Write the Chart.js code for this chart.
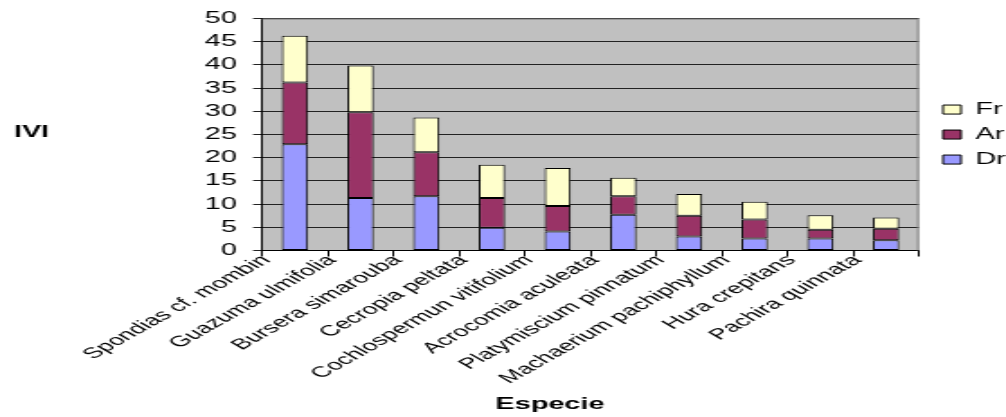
<!DOCTYPE html>
<html>
<head>
<meta charset="utf-8">
<script src="https://cdn.jsdelivr.net/npm/chart.js@4.4.0/dist/chart.umd.min.js"></script>
<style>
html,body{margin:0;padding:0;background:#fff;overflow:hidden}
#grafico{display:block}
</style>
</head>
<body>
<!-- o grafico original foi esticado na horizontal: canvas estreito, esticado via CSS -->
<canvas id="grafico" width="559" height="417" style="width:1006px;height:417px"></canvas>
<script>
// Dados
const especies = ["Spondias cf. mombin", "Guazuma ulmifolia", "Bursera simarouba", "Cecropia peltata",
  "Cochlospermun vitifolium", "Acrocomia aculeata", "Platymiscium pinnatum", "Machaerium pachiphyllum",
  "Hura crepitans", "Pachira quinnata"];
const dr = [22.9, 11.3, 11.7, 4.9, 4.1, 7.7, 3.0, 2.6, 2.6, 2.2];
const ar = [13.3, 18.5, 9.5, 6.4, 5.5, 4.0, 4.5, 4.1, 1.9, 2.5];
const fr = [10.1, 10.1, 7.5, 7.2, 8.2, 4.0, 4.7, 3.8, 3.1, 2.4];
const yMin = 0, yMax = 50, yPasso = 5;

Chart.defaults.font.family = "'Liberation Sans', Arial, sans-serif";
Chart.defaults.color = "#000";

// Fundo cinza, borda e titulos dos eixos
const plotArea = {
  id: "plotArea",
  beforeDraw(chart){
    const {ctx, chartArea:a} = chart;
    ctx.save();
    ctx.fillStyle = "#C0C0C0";
    ctx.fillRect(a.left, a.top, a.right-a.left, a.bottom-a.top);
    ctx.restore();
  },
  beforeDatasetsDraw(chart){
    const {ctx, chartArea:a} = chart;
    ctx.save();
    ctx.strokeStyle = "#808080"; ctx.lineWidth = 1;
    ctx.beginPath();
    ctx.moveTo(a.left, a.top+0.5); ctx.lineTo(a.right-0.5, a.top+0.5); ctx.lineTo(a.right-0.5, a.bottom);
    ctx.stroke();
    ctx.restore();
  },
  afterDraw(chart){
    const ctx = chart.ctx;
    ctx.save();
    ctx.fillStyle = "#000";
    ctx.font = "bold 16px 'Liberation Sans', Arial, sans-serif";
    ctx.textAlign = "center"; ctx.textBaseline = "middle";
    ctx.fillText("IVI", 17.5, 133);
    ctx.fillText("Especie", 305.6, 405);
    ctx.restore();
  }
};

new Chart(document.getElementById("grafico"), {
  type: "bar",
  data: {
    labels: especies,
    datasets: [
      {label:"Dr", data:dr, backgroundColor:"#9999FF", borderColor:"#000", borderWidth:1, borderSkipped:false},
      {label:"Ar", data:ar, backgroundColor:"#993366", borderColor:"#000", borderWidth:1, borderSkipped:false},
      {label:"Fr", data:fr, backgroundColor:"#FFFFCC", borderColor:"#000", borderWidth:1, borderSkipped:false}
    ]
  },
  options: {
    responsive: false,
    animation: false,
    layout: {padding:{top:15, left:0, right:0, bottom:0}},
    datasets: {bar:{categoryPercentage:1, barPercentage:0.4}},
    plugins: {
      tooltip: {enabled:false},
      legend: {
        position: "right",
        fullSize: false,
        maxWidth: 44,
        reverse: true,
        labels: {font:{size:16}, boxWidth:10, boxHeight:9, padding:9, color:"#000"}
      }
    },
    scales: {
      x: {
        stacked: true,
        grid: {offset:true, drawOnChartArea:false, tickLength:6, color:"#000"},
        border: {color:"#000", width:1},
        ticks: {font:{size:15}, minRotation:45, maxRotation:45, autoSkip:false, labelOffset:-16, padding:-5, color:"#000"},
        afterFit(s){ s.height = 166.5; }
      },
      y: {
        stacked: true,
        min: yMin, max: yMax,
        grid: {color:"#222", tickLength:5},
        border: {color:"#000", width:1},
        ticks: {stepSize:yPasso, font:{size:16}, padding:9, color:"#000"},
        afterFit(s){ s.width = 145.6; }
      },
      espaco: {
        type: "linear", position: "right",
        grid: {display:false}, border: {display:false}, ticks: {display:false},
        afterFit(s){ s.width = 4.4; }
      }
    }
  },
  plugins: [plotArea]
});
</script>
</body>
</html>
